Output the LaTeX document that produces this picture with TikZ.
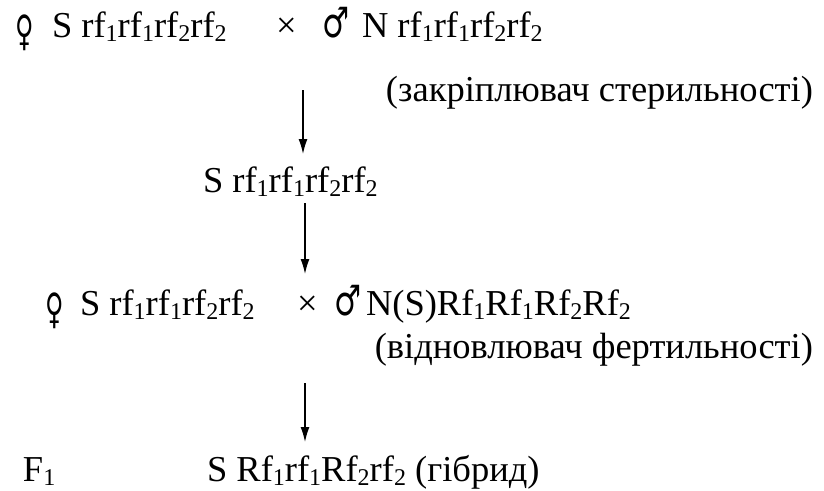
\documentclass[tikz,border=0pt]{standalone}
\usepackage{fontspec}
\setmainfont{Liberation Serif}
\newfontfamily\symfont{DejaVu Sans}
\usetikzlibrary{arrows.meta}
% subscript index, set smaller and lowered below the baseline
\newcommand\lo[1]{\raisebox{-4.5pt}{\fontsize{24}{24}\selectfont #1}}
% narrow sex symbols
\newcommand\fem{\scalebox{0.6}[1]{♀}}
\newcommand\mal{\scalebox{0.72}[1]{♂}}
\tikzset{
  txt/.style={anchor=base west, inner sep=0pt, outer sep=0pt, font=\fontsize{36.5}{42}\selectfont},
  txtr/.style={txt, anchor=base east},
  sym/.style={anchor=base west, inner sep=0pt, outer sep=0pt, font=\symfont\fontsize{42}{48}\selectfont},
  flow/.style={line width=1.4pt, -{Latex[length=15pt,width=9pt]}}
}
\begin{document}
\begin{tikzpicture}[x=1pt,y=-1pt]
\useasboundingbox (0,0) rectangle (824,490);
% first cross: sterile female x sterility maintainer
\node[sym] (f1) at (15,45) {\fem};
\node[txt] (g1) at (52,37) {S rf\lo1rf\lo1rf\lo2rf\lo2};
\node[txt] (x1) at (276,37) {×};
\node[sym] (m1) at (322,37) {\mal};
\node[txt] (g2) at (362,37) {N rf\lo1rf\lo1rf\lo2rf\lo2};
\node[txtr] (l1) at (813,101) {(закріплювач стерильності)};
% sterile line
\coordinate (a1s) at (303,90);
\coordinate (a1e) at (303,154);
\node[txt] (g3) at (203,192) {S rf\lo1rf\lo1rf\lo2rf\lo2};
\coordinate (a2s) at (305,203);
\coordinate (a2e) at (305,274);
% second cross: sterile female x fertility restorer
\node[sym] (f2) at (45,323) {\fem};
\node[txt] (g4) at (80,315) {S rf\lo1rf\lo1rf\lo2rf\lo2};
\node[txt] (x2) at (297,315) {×};
\node[sym] (m2) at (334,315) {\mal};
\node[txt] (g5) at (366,315) {N(S)Rf\lo1Rf\lo1Rf\lo2Rf\lo2};
\node[txtr] (l2) at (813,358) {(відновлювач фертильності)};
\coordinate (a3s) at (305,383);
\coordinate (a3e) at (305,442);
% hybrid generation
\node[txt] (fg) at (23,481) {F\lo1};
\node[txt] (g6) at (207,481) {S Rf\lo1rf\lo1Rf\lo2rf\lo2 (гібрид)};
\draw[flow] (a1s) -- (a1e);
\draw[flow] (a2s) -- (a2e);
\draw[flow] (a3s) -- (a3e);
\end{tikzpicture}
\end{document}
